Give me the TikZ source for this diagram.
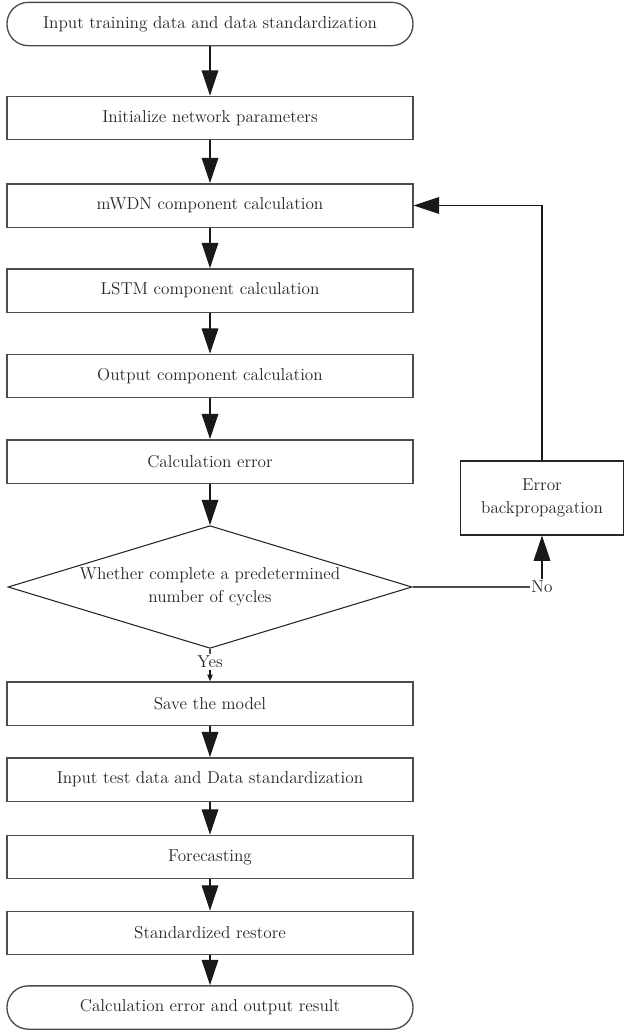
\documentclass[tikz,border=0pt]{standalone}
\usetikzlibrary{arrows.meta,shapes.geometric}
\begin{document}
\begin{tikzpicture}[x=0.75pt,y=-0.75pt,
  every node/.style={font=\fontsize{12.9}{17}\selectfont, text=black!85},
  stepbox/.style={draw=black!70, line width=1pt, rectangle, minimum width=304.5pt, minimum height=32.5pt, inner sep=0pt},
  termbox/.style={stepbox, rounded corners=16pt},
  decisionbox/.style={draw=black!85, line width=0.8pt, diamond, aspect=3.28, minimum width=303pt, minimum height=92pt, inner sep=0pt, align=center},
  sidebox/.style={draw=black!85, line width=0.8pt, rectangle, minimum width=122.5pt, minimum height=55.5pt, inner sep=0pt, align=center},
  flow/.style={draw=black!90, line width=0.8pt, -{Triangle[length=19pt,width=12.5pt]}},
  thin flow/.style={draw=black!90, line width=0.8pt, -{Triangle[length=5pt,width=4pt]}},
  plain/.style={draw=black!70, line width=1pt},
  tag/.style={fill=white, inner sep=1pt}
]
\useasboundingbox (0,0) rectangle (624,1032);

% main column
\node[termbox] (t1) at (210,24) {Input training data and data standardization};
\node[stepbox] (b2) at (210,118) {Initialize network parameters};
\node[stepbox] (b3) at (210,205.5) {mWDN component calculation};
\node[stepbox] (b4) at (210,290.5) {LSTM component calculation};
\node[stepbox] (b5) at (210,376) {Output component calculation};
\node[stepbox] (b6) at (210,461.5) {Calculation error};
\node[decisionbox] (d) at (210,587) {Whether complete a predetermined\\number of cycles};
\node[tag] (yes) at (210,662) {Yes};
\node[stepbox] (s1) at (210,703.5) {Save the model};
\node[stepbox] (s2) at (210,779.5) {Input test data and Data standardization};
\node[stepbox] (s3) at (210,857) {Forecasting};
\node[stepbox] (s4) at (210,933) {Standardized restore};
\node[termbox] (t2) at (210,1007.5) {Calculation error and output result};

% feedback branch
\node[sidebox] (eb) at (542,498) {Error\\backpropagation};
\node[tag] (no) at (542,587) {No};

% connectors
\draw[flow] (t1) -- (b2);
\draw[flow] (b2) -- (b3);
\draw[flow] (b3) -- (b4);
\draw[flow] (b4) -- (b5);
\draw[flow] (b5) -- (b6);
\draw[flow] (b6) -- (d);
\draw[plain] (d.south) -- (yes.north);
\draw[thin flow] (yes.south) -- (s1.north);
\draw[flow] (s1) -- (s2);
\draw[flow] (s2) -- (s3);
\draw[flow] (s3) -- (s4);
\draw[flow] (s4) -- (t2);
\draw[plain] (d.east) -- (no.west);
\draw[flow] (no.north) -- (eb.south);
\draw[flow] (eb.north) |- (b3.east);
\end{tikzpicture}
\end{document}
